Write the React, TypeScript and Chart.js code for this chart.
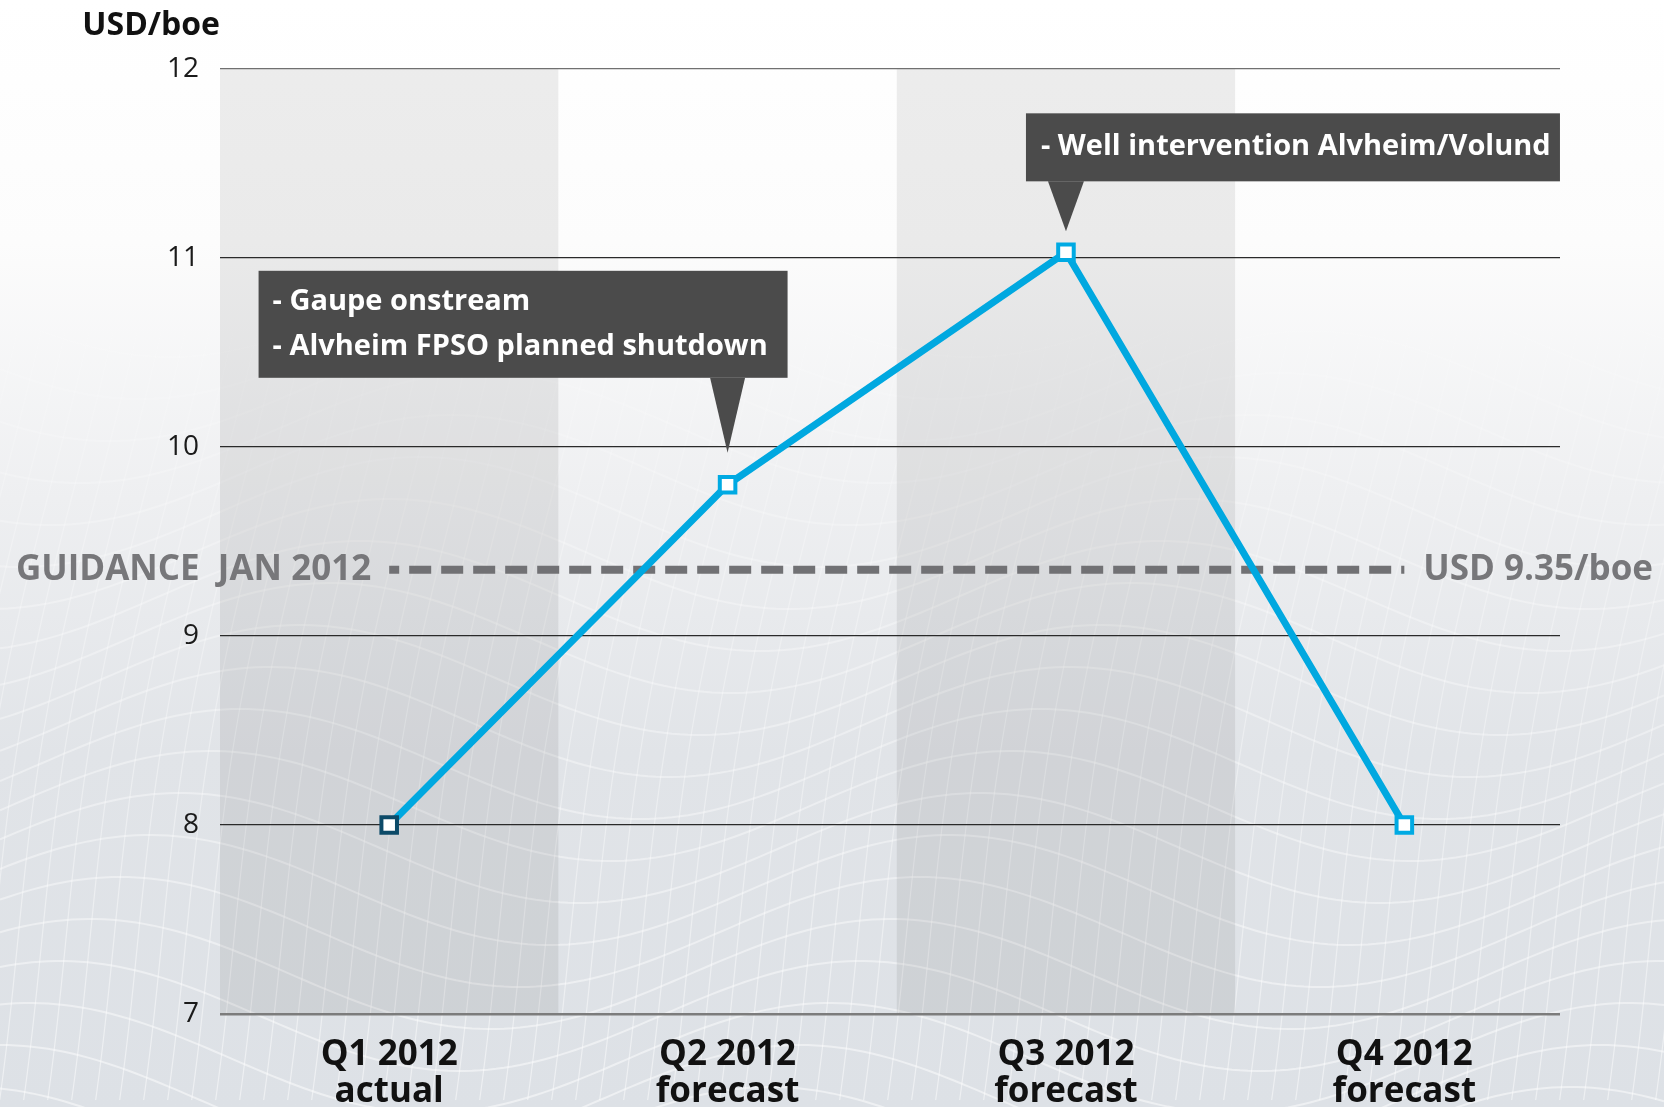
import React, { useEffect, useRef } from 'react';
import { Chart, registerables } from 'chart.js';

Chart.register(...registerables);

const categories: string[][] = [
  ['Q1 2012', 'actual'],
  ['Q2 2012', 'forecast'],
  ['Q3 2012', 'forecast'],
  ['Q4 2012', 'forecast'],
];
const costValues: number[] = [8.0, 9.8, 11.03, 8.0];
const guidanceValue = 9.35;
const yTickValues: number[] = [7, 8, 9, 10, 11, 12];
const unitLabel = 'USD/boe';
const guidanceLeftLabel = 'GUIDANCE  JAN 2012';
const guidanceRightLabel = 'USD 9.35/boe';
const noteQ2: string[] = ['- Gaupe onstream', '- Alvheim FPSO planned shutdown'];
const noteQ3: string[] = ['- Well intervention Alvheim/Volund'];
const pointBorderColors: string[] = ['#0c4a68', '#00aae3', '#00aae3', '#00aae3'];

const FONT = '"Open Sans", "DejaVu Sans", sans-serif';

const bgPlugin = {
  id: 'bgPlugin',
  beforeDraw(chart: any) {
    const { ctx, width, height, chartArea, scales } = chart;
    ctx.save();
    const g = ctx.createLinearGradient(0, 0, 0, height);
    g.addColorStop(0, '#ffffff');
    g.addColorStop(0.22, '#fcfcfc');
    g.addColorStop(0.45, '#eeeff1');
    g.addColorStop(0.68, '#e1e4e8');
    g.addColorStop(1, '#dde1e6');
    ctx.fillStyle = g;
    ctx.fillRect(0, 0, width, height);

    // decorative mesh
    const mg = ctx.createLinearGradient(0, 250, 0, height);
    mg.addColorStop(0, 'rgba(255,255,255,0)');
    mg.addColorStop(0.4, 'rgba(255,255,255,0.3)');
    mg.addColorStop(1, 'rgba(255,255,255,0.5)');
    ctx.strokeStyle = mg;
    ctx.lineWidth = 2;
    for (let k = 0; k < 22; k++) {
      ctx.beginPath();
      const base = 260 + k * 42;
      for (let x = 0; x <= width; x += 8) {
        const y = base + 55 * Math.sin((2 * Math.PI * (x + k * 30)) / 800);
        if (x === 0) ctx.moveTo(x, y);
        else ctx.lineTo(x, y);
      }
      ctx.stroke();
    }
    ctx.lineWidth = 1.2;
    for (let x0 = -300; x0 < width + 100; x0 += 24) {
      ctx.beginPath();
      for (let y = 250; y <= height; y += 10) {
        const x = x0 + (height - y) * 0.18 + 12 * Math.sin(y / 150);
        if (y === 250) ctx.moveTo(x, y);
        else ctx.lineTo(x, y);
      }
      ctx.stroke();
    }

    // alternating column bands
    const xs = scales.x;
    ctx.fillStyle = 'rgba(0,0,0,0.07)';
    categories.forEach((_, i) => {
      if (i % 2 === 0) {
        const x1 = xs.getPixelForValue(i - 0.5);
        const x2 = xs.getPixelForValue(i + 0.5);
        ctx.fillRect(x1, chartArea.top, x2 - x1, chartArea.bottom - chartArea.top);
      }
    });
    ctx.restore();
  },
};

const labelPlugin = {
  id: 'labelPlugin',
  afterDatasetsDraw(chart: any) {
    const { ctx, chartArea, scales } = chart;
    const xs = scales.x;
    const ys = scales.y;
    ctx.save();
    // unit label
    ctx.font = `bold 32px ${FONT}`;
    ctx.fillStyle = '#111111';
    ctx.textAlign = 'right';
    ctx.textBaseline = 'middle';
    ctx.fillText(unitLabel, chartArea.left, 26);

    // guidance labels
    const gy = ys.getPixelForValue(guidanceValue);
    const gx0 = xs.getPixelForValue(0);
    const gx1 = xs.getPixelForValue(categories.length - 1);
    ctx.font = `bold 35px ${FONT}`;
    ctx.fillStyle = '#77777a';
    ctx.textAlign = 'right';
    ctx.fillText(guidanceLeftLabel, gx0 - 18, gy);
    ctx.textAlign = 'left';
    ctx.fillText(guidanceRightLabel, gx1 + 19, gy);

    // callout notes
    const meta = chart.getDatasetMeta(0);
    const drawNote = (
      idx: number,
      lines: string[],
      tipGap: number,
      pointerLen: number,
      halfBase: number,
      leftOff: number,
      rightOff: number,
      boxH: number,
      lineOffsets: number[],
      textPad: number
    ) => {
      const p = meta.data[idx];
      const tipY = p.y - tipGap;
      const bottom = tipY - pointerLen;
      const top = bottom - boxH;
      const left = p.x - leftOff;
      const right = p.x + rightOff;
      ctx.fillStyle = '#4b4b4b';
      ctx.fillRect(left, top, right - left, boxH);
      ctx.beginPath();
      ctx.moveTo(p.x - halfBase, bottom);
      ctx.lineTo(p.x + halfBase, bottom);
      ctx.lineTo(p.x, tipY);
      ctx.closePath();
      ctx.fill();
      ctx.fillStyle = '#ffffff';
      ctx.font = `bold 29px ${FONT}`;
      ctx.textAlign = 'left';
      ctx.textBaseline = 'middle';
      lines.forEach((t, i) => ctx.fillText(t, left + textPad, top + lineOffsets[i]));
    };
    drawNote(1, noteQ2, 32, 75, 17.5, 469, 60, 107, [31, 76], 14);
    drawNote(2, noteQ3, 21, 50, 18, 40, 494, 68, [33], 15);
    ctx.restore();
  },
};

export default function App() {
  const ref = useRef<HTMLCanvasElement | null>(null);
  useEffect(() => {
    if (!ref.current) return;
    const chart = new Chart(ref.current, {
      type: 'line',
      data: {
        datasets: [
          {
            label: 'Opex',
            data: costValues.map((v, i) => ({ x: i, y: v })),
            borderColor: '#00a8e0',
            borderWidth: 7,
            pointStyle: 'rect',
            pointRadius: 11,
            pointHoverRadius: 11,
            pointBorderWidth: 4,
            pointBackgroundColor: '#ffffff',
            pointBorderColor: pointBorderColors,
            tension: 0,
            order: 0,
          },
          {
            label: 'Guidance',
            data: [
              { x: 0, y: guidanceValue },
              { x: categories.length - 1, y: guidanceValue },
            ],
            borderColor: '#717174',
            borderWidth: 8,
            borderDash: [22, 10],
            borderDashOffset: 12,
            borderCapStyle: 'butt',
            pointRadius: 0,
            order: 1,
          },
        ],
      } as any,
      options: {
        responsive: false,
        animation: false,
        devicePixelRatio: 1,
        layout: { padding: { top: 69, right: 104, left: 0, bottom: 0 } },
        plugins: { legend: { display: false }, tooltip: { enabled: false } },
        scales: {
          x: {
            type: 'linear',
            min: -0.5,
            max: 3.46,
            afterBuildTicks: (s: any) => {
              s.ticks = categories.map((_, i) => ({ value: i }));
            },
            afterFit: (s: any) => {
              s.height = 93;
            },
            grid: { display: false, drawTicks: false },
            border: { display: false },
            ticks: {
              autoSkip: false,
              maxRotation: 0,
              padding: 22,
              color: '#111111',
              font: { family: FONT, size: 35, weight: 'bold', lineHeight: 1.06 },
              callback: (v: any) => categories[v as number],
            },
          },
          y: {
            type: 'linear',
            min: 7,
            max: 12,
            afterBuildTicks: (s: any) => {
              s.ticks = yTickValues.map((v) => ({ value: v }));
            },
            afterFit: (s: any) => {
              s.width = 220;
            },
            border: { display: false },
            grid: {
              drawTicks: false,
              color: (c: any) =>
                c.tick && c.tick.value === 12 ? '#707070' : c.tick && c.tick.value === 7 ? '#7c7c7c' : '#2a2a2a',
              lineWidth: (c: any) => (c.tick && c.tick.value === 7 ? 2.5 : 1.3),
            },
            ticks: {
              padding: 21,
              color: '#1a1a1a',
              font: { family: FONT, size: 28 },
            },
          },
        },
      } as any,
      plugins: [bgPlugin, labelPlugin],
    });
    return () => chart.destroy();
  }, []);
  return (
    <div style={{ position: 'fixed', left: 0, top: 0, width: 1664, height: 1107, overflow: 'hidden' }}>
      <canvas ref={ref} width={1664} height={1107} style={{ display: 'block' }} />
    </div>
  );
}
